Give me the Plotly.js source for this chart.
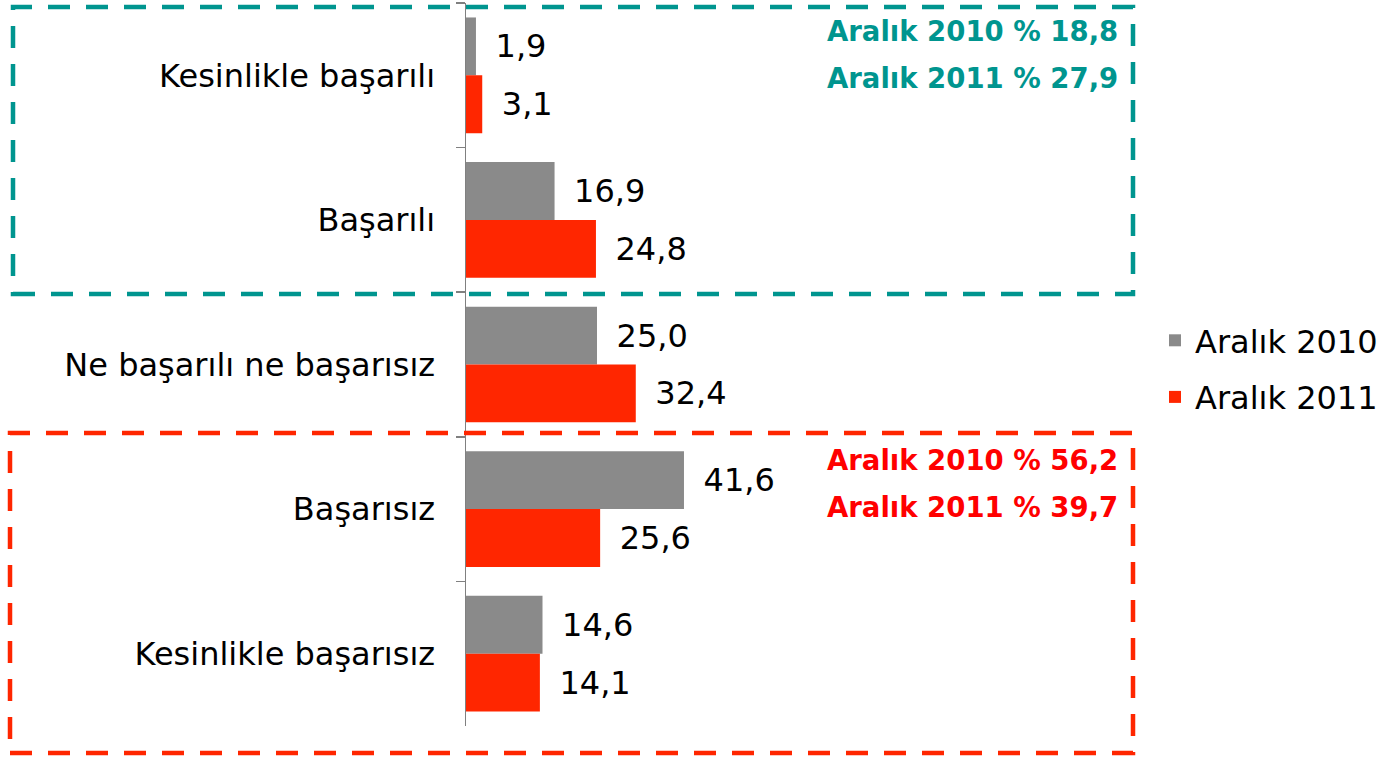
<!DOCTYPE html>
<html>
<head>
<meta charset="utf-8">
<script src="https://cdn.plot.ly/plotly-3.0.1.min.js"></script>
<style>html,body{margin:0;padding:0;background:#fff;}#chart{width:1388px;height:758px;}</style>
</head>
<body>
<div id="chart"></div>
<script>
const categories = ["Kesinlikle başarılı", "Başarılı", "Ne başarılı ne başarısız", "Başarısız", "Kesinlikle başarısız"];
const seriesNames = ["Aralık 2010", "Aralık 2011"];
const values2010 = [1.9, 16.9, 25.0, 41.6, 14.6];
const values2011 = [3.1, 24.8, 32.4, 25.6, 14.1];
const positiveSummary = ["Aralık 2010 % 18,8", "Aralık 2011 % 27,9"];
const negativeSummary = ["Aralık 2010 % 56,2", "Aralık 2011 % 39,7"];

const GRAY = "#8a8a8a", RED = "#ff2600", TEAL = "#00958f", TXTRED = "#ff0000";
const FONT = "DejaVu Sans, Verdana, sans-serif";

// plot area in pixels
const L = 466, T = 3, W = 922, H = 723;
const px = x => (x - L) / W;
const py = y => (T + H - y) / H;

function barTrace(name, vals, color) {
  return {
    type: "bar", orientation: "h", name: name, legendgroup: name,
    y: categories, x: vals,
    marker: {color: color, line: {width: 0}},
    text: vals.map(v => v.toFixed(1).replace(".", ",")),
    texttemplate: "\u00a0\u2009%{text}",
    textposition: "outside",
    textfont: {family: FONT, size: 32, color: "#000"},
    constraintext: "none",
    cliponaxis: false,
    hoverinfo: "skip"
  };
}

const data = [barTrace(seriesNames[0], values2010, GRAY), barTrace(seriesNames[1], values2011, RED)];

function box(x0, y0, x1, y1, color) {
  return {type: "rect", xref: "paper", yref: "paper",
    x0: px(x0), x1: px(x1), y0: py(y1), y1: py(y0),
    line: {color: color, width: 4.5, dash: "22px,16px"}, fillcolor: "rgba(0,0,0,0)"};
}

function summary(txt, y, color) {
  return {xref: "paper", yref: "paper", x: px(1120), y: py(y), xanchor: "right", yanchor: "middle",
    text: "<b>" + txt + "</b>", showarrow: false,
    font: {family: FONT, size: 27.5, color: color}};
}

const layout = {
  width: 1388, height: 758,
  margin: {l: L, r: 1388 - L - W, t: T, b: 758 - T - H, pad: 0},
  paper_bgcolor: "#fff", plot_bgcolor: "#fff",
  separators: ",.",
  barmode: "group", bargap: 0.2, bargroupgap: 0,
  xaxis: {range: [0, W / 5.24], visible: false, fixedrange: true},
  yaxis: {
    type: "category", categoryorder: "array", categoryarray: categories,
    range: [4.5, -0.5],
    showline: true, linecolor: "#808080", linewidth: 1.5,
    ticks: "outside", tickson: "boundaries", ticklen: 9, tickcolor: "#808080", tickwidth: 1.5,
    ticklabelstandoff: 23,
    tickfont: {family: FONT, size: 32, color: "#000"},
    showgrid: false, zeroline: false, fixedrange: true
  },
  showlegend: true,
  legend: {
    x: px(1155), y: py(369), xanchor: "left", yanchor: "middle",
    font: {family: FONT, size: 32, color: "#000"},
    bgcolor: "rgba(0,0,0,0)", borderwidth: 0, traceorder: "grouped",
    tracegroupgap: 12,
    itemwidth: 30
  },
  shapes: [
    box(13, 7, 1133, 294, TEAL),
    box(10, 433, 1133, 753, RED)
  ],
  annotations: [
    summary(positiveSummary[0], 31, TEAL),
    summary(positiveSummary[1], 78, TEAL),
    summary(negativeSummary[0], 460, TXTRED),
    summary(negativeSummary[1], 507, TXTRED)
  ]
};

Plotly.newPlot("chart", data, layout, {displayModeBar: false, staticPlot: true});
</script>
</body>
</html>
